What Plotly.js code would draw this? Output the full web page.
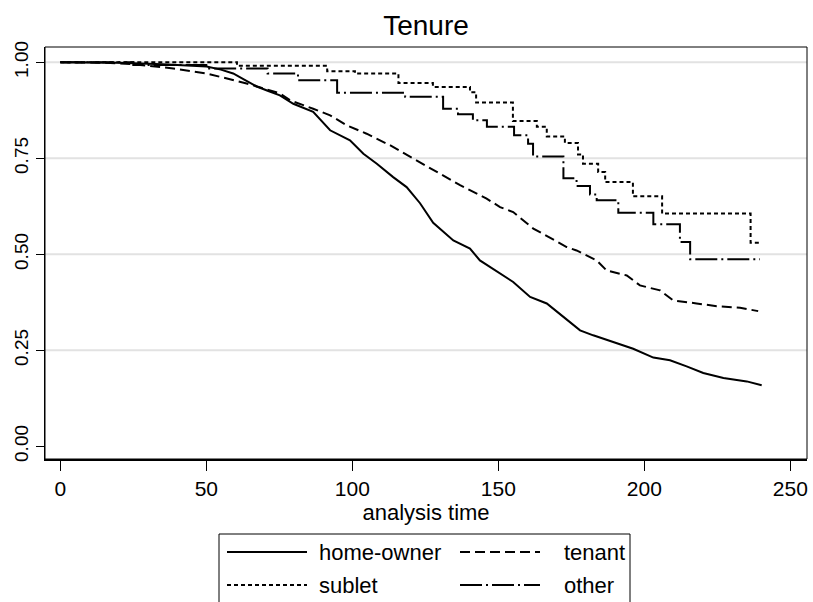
<!DOCTYPE html>
<html>
<head>
<meta charset="utf-8">
<script src="https://cdn.plot.ly/plotly-3.0.1.min.js"></script>
<style>html,body{margin:0;padding:0;background:#fff;}#chart{width:813px;height:602px;}</style>
</head>
<body>
<div id="chart"></div>
<script>
// ---- data ----
const seriesNames = ['home-owner', 'tenant', 'sublet', 'other'];

const homeOwnerTime = [0, 20, 35, 45, 50.1, 55, 59.2, 63, 67.3, 71, 75.2, 79.8, 86.6, 92.4, 99.2, 103.8, 108.4, 114.0, 118.6, 123.2, 127.7, 134.6, 140.3, 143.7, 150.6, 155.1, 160.9, 166.6, 172.3, 178.0, 182.5, 189.4, 196.2, 203.1, 208.8, 214.5, 220.2, 227.1, 235.1, 240.2];
const homeOwnerSurv = [1.0, 0.999, 0.995, 0.992, 0.989, 0.981, 0.971, 0.955, 0.937, 0.926, 0.914, 0.892, 0.871, 0.823, 0.797, 0.762, 0.736, 0.701, 0.675, 0.633, 0.582, 0.536, 0.515, 0.484, 0.450, 0.428, 0.389, 0.372, 0.337, 0.302, 0.289, 0.272, 0.254, 0.231, 0.224, 0.208, 0.191, 0.178, 0.169, 0.159];

const tenantTime = [0, 15, 25, 38.7, 50.1, 63.8, 75.2, 78.7, 86.6, 92.4, 98.1, 104.9, 112.9, 120.9, 127.7, 136.9, 146.0, 150.6, 155.1, 162.0, 173.4, 176.8, 183.7, 187.1, 194.0, 198.5, 205.4, 209.9, 217.9, 224.8, 232.8, 239.0];
const tenantSurv = [1.0, 0.999, 0.995, 0.984, 0.971, 0.945, 0.919, 0.901, 0.879, 0.862, 0.836, 0.814, 0.784, 0.749, 0.719, 0.680, 0.645, 0.623, 0.610, 0.567, 0.519, 0.510, 0.484, 0.458, 0.445, 0.419, 0.406, 0.380, 0.372, 0.365, 0.361, 0.352];

// step functions: each value starts at its time and holds until the next time
const subletTime = [0, 60.5, 91.4, 100.9, 115.8, 127.6, 140.3, 142.4, 155.0, 163.2, 166.6, 172.8, 177.3, 179.0, 184.2, 186.6, 196.1, 206.1, 236.4, 240.2];
const subletSurv = [1.0, 0.991, 0.977, 0.971, 0.946, 0.936, 0.922, 0.895, 0.847, 0.832, 0.807, 0.790, 0.760, 0.736, 0.714, 0.688, 0.651, 0.606, 0.530, 0.530];

const otherTime = [0, 25, 50, 71, 81.4, 94.8, 118.1, 131.1, 136.2, 141.3, 146.1, 155.4, 160.2, 161.9, 172.3, 176.8, 181.4, 183.7, 191.1, 203.1, 212.2, 215.7, 239.6];
const otherSurv = [1.0, 0.993, 0.984, 0.971, 0.953, 0.921, 0.910, 0.879, 0.865, 0.849, 0.832, 0.810, 0.788, 0.755, 0.698, 0.678, 0.656, 0.641, 0.608, 0.578, 0.532, 0.487, 0.487];

const xTickVals = [0, 50, 100, 150, 200, 250];
const yTickVals = [0, 0.25, 0.5, 0.75, 1];
const yTickText = ['0.00', '0.25', '0.50', '0.75', '1.00'];
const titleText = 'Tenure';
const xTitleText = 'analysis time';

// ---- styles ----
const lineDashes = ['solid', '10px,5px', '4px,3px', '22px,4px,2px,4px'];
const lineShapes = ['linear', 'linear', 'hv', 'hv'];
const FONT = 'Liberation Sans, Arial, Helvetica, sans-serif';

const times = [homeOwnerTime, tenantTime, subletTime, otherTime];
const survs = [homeOwnerSurv, tenantSurv, subletSurv, otherSurv];

const traces = seriesNames.map((name, i) => ({
  type: 'scatter', mode: 'lines', name: name,
  x: times[i], y: survs[i],
  line: {color: '#000', width: 2, dash: lineDashes[i], shape: lineShapes[i]},
  showlegend: false, hoverinfo: 'skip'
}));

// plot-area pixel frame
const W = 813, H = 602, PL = 45, PR = 807, PT = 47, PB = 459;
const fx = px => (px - PL) / (PR - PL);
const fy = py => (PB - py) / (PB - PT);

const shapes = [];
// gridlines (none at 0)
yTickVals.filter(v => v > 0).forEach(v => shapes.push({
  type: 'line', xref: 'paper', yref: 'y', x0: 0, x1: 1, y0: v, y1: v,
  line: {color: '#e2e2e2', width: 2}, layer: 'below'
}));
// frame
shapes.push({type: 'rect', xref: 'paper', yref: 'paper', x0: 0, x1: 1, y0: 0, y1: 1,
  line: {color: '#000', width: 1}, layer: 'above'});

// legend box (manual, Stata style)
shapes.push({type: 'rect', xref: 'paper', yref: 'paper',
  x0: fx(219), x1: fx(630), y0: fy(640), y1: fy(534),
  line: {color: '#000', width: 1}, fillcolor: '#fff'});
const legCols = [{s0: 227, s1: 307, t: 317}, {s0: 460, s1: 540, t: 562}];
const legRows = [552, 585];
const annotations = [];
seriesNames.forEach((name, i) => {
  const c = legCols[i % 2], r = legRows[Math.floor(i / 2)];
  shapes.push({type: 'line', xref: 'paper', yref: 'paper',
    x0: fx(c.s0), x1: fx(c.s1), y0: fy(r), y1: fy(r),
    line: {color: '#000', width: 2, dash: lineDashes[i]}});
  annotations.push({xref: 'paper', yref: 'paper', x: fx(c.t), y: fy(r),
    xanchor: 'left', yanchor: 'middle', showarrow: false, text: name,
    font: {family: FONT, size: 22, color: '#000'}});
});

const layout = {
  width: W, height: H,
  margin: {l: PL, r: W - PR, t: PT, b: H - PB, pad: 0},
  paper_bgcolor: '#fff', plot_bgcolor: '#fff',
  font: {family: FONT, color: '#000'},
  title: {text: titleText, font: {family: FONT, size: 28, color: '#000'},
    x: 0.5, xref: 'paper', y: 1 - 25 / H, yref: 'container', yanchor: 'middle'},
  xaxis: {
    range: [(PL - 60.3) / 2.92, (PR - 60.3) / 2.92],
    tickvals: xTickVals, ticks: 'outside', ticklen: 10, tickwidth: 1, tickcolor: '#000',
    showgrid: false, zeroline: false, showline: true, linecolor: '#000', linewidth: 2,
    tickfont: {family: FONT, size: 21, color: '#000'},
    title: {text: xTitleText, font: {family: FONT, size: 22, color: '#000'}, standoff: 0}
  },
  yaxis: {
    range: [1 - (PB - 62.3) / 384, 1 + (62.3 - PT) / 384],
    tickvals: yTickVals, ticktext: yTickText, tickangle: -90,
    ticks: 'outside', ticklen: 8, tickwidth: 1, tickcolor: '#000',
    showgrid: false, zeroline: false, showline: true, linecolor: '#000', linewidth: 1,
    tickfont: {family: FONT, size: 19, color: '#000'}
  },
  shapes: shapes,
  annotations: annotations,
  showlegend: false
};

Plotly.newPlot('chart', traces, layout, {displayModeBar: false, staticPlot: true});
</script>
</body>
</html>
